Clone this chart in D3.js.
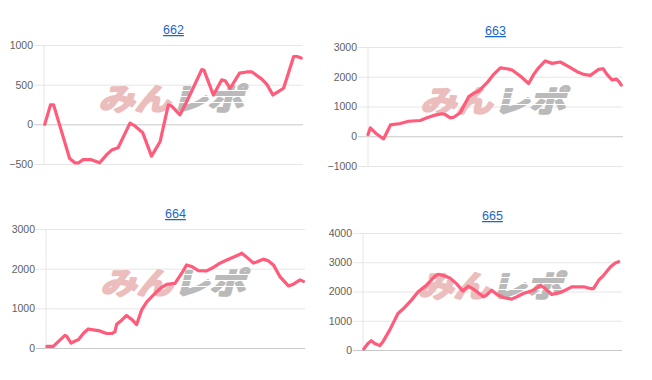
<!DOCTYPE html>
<html>
<head>
<meta charset="UTF-8" />
<title>Charts</title>
<style>
  body { margin: 0; background: #fff; }
  svg { display: block; }
  .tick text { fill: #5f5f5f; font: 10.5px "Liberation Sans", Arial, sans-serif; }
  .tick line { stroke: #e6e6e6; }
  .zero line { stroke: #c8c8c8; }
  .domain { display: none; }
  .title { fill: #1a66cc; font: 12.5px "Liberation Sans", Arial, sans-serif; text-decoration: underline; }
  .line { fill: none; stroke: #ff5b7b; stroke-width: 3.2px; stroke-linejoin: round; stroke-linecap: round; }
  .wm { font: bold 30px "Noto Sans CJK JP", sans-serif; stroke-width: 2.2px; stroke-linejoin: round; }
</style>
<script src="https://cdn.jsdelivr.net/npm/d3@7"></script>
</head>
<body>
<script>
// ---- data (x = position along the run, 0..100) ----
var names = ["662", "663", "664", "665"];

var x662 = [0.3, 2.5, 3.7, 9.9, 11.9, 13.4, 15.1, 18.3, 21.5, 24.4, 26.1, 28.6, 33.2, 35.1, 38.1, 41.5, 44.8, 48, 49.3, 52.5, 55.1, 60.9, 61.8, 65.4, 68.6, 69.9, 71.9, 75.5, 78.3, 80.3, 84.1, 86.1, 88.4, 90.6, 92.5, 96.4, 97.7, 99.3];
var v662 = [0, 245, 245, -430, -485, -485, -445, -445, -485, -375, -325, -295, 15, -20, -105, -400, -220, 245, 230, 120, 285, 690, 680, 370, 560, 550, 455, 645, 660, 660, 570, 500, 370, 415, 455, 855, 855, 835];

var x663 = [0, 0.9, 2.9, 6.1, 8.8, 12.7, 15.9, 20.5, 23.1, 25.8, 29.0, 30.3, 32.3, 33.6, 36.2, 37.5, 39.5, 41.4, 43.4, 46.7, 49.3, 51.9, 54.5, 56.5, 59.7, 63.0, 65.0, 66.9, 69.5, 72.2, 75.4, 78.7, 82.0, 84.6, 87.2, 90.5, 92.2, 93.7, 95.7, 97.4, 98.3, 99.3];
var v663 = [55, 280, 110, -90, 380, 430, 505, 530, 620, 700, 755, 730, 620, 640, 790, 1010, 1330, 1440, 1520, 1800, 2080, 2300, 2270, 2225, 2025, 1775, 2080, 2300, 2530, 2450, 2495, 2340, 2170, 2080, 2045, 2250, 2270, 2080, 1890, 1920, 1850, 1720];

var x664 = [0.3, 2.8, 7.3, 8.0, 9.7, 11.2, 12.5, 14.4, 16.3, 18.9, 20.8, 23.4, 25.4, 26.6, 27.3, 29.2, 31.1, 33.1, 35.0, 36.9, 38.9, 42.1, 44.7, 46.6, 49.8, 52.4, 54.3, 56.2, 58.8, 62.0, 64.0, 67.2, 69.8, 72.3, 74.9, 75.6, 77.5, 80.1, 81.3, 83.9, 85.8, 87.8, 90.3, 93.6, 95.5, 98.1, 99.4];
var v664 = [40, 40, 320, 295, 125, 175, 210, 365, 480, 450, 430, 365, 365, 405, 600, 700, 820, 720, 590, 955, 1165, 1380, 1530, 1605, 1630, 1885, 2095, 2055, 1950, 1945, 2010, 2140, 2220, 2290, 2365, 2390, 2290, 2140, 2170, 2240, 2200, 2095, 1800, 1565, 1610, 1715, 1680];

var x665 = [0.3, 1.9, 3.2, 4.5, 6.5, 7.7, 10.3, 13.5, 16.1, 18.7, 21.3, 24.5, 27.7, 29.0, 31.0, 33.5, 36.1, 38.5, 40.6, 43.2, 46.5, 47.7, 49.7, 51.6, 54.2, 57.4, 59.4, 61.9, 65.8, 68.6, 70.3, 72.9, 76.1, 78.7, 80.6, 85.2, 87.7, 89.0, 91.0, 92.9, 95.5, 97.4, 98.7];
var v665 = [35, 225, 320, 225, 150, 285, 680, 1250, 1455, 1705, 1990, 2215, 2520, 2590, 2545, 2465, 2270, 2020, 2180, 2045, 1820, 1875, 2045, 1910, 1795, 1740, 1820, 1930, 2045, 2215, 2100, 1900, 1965, 2070, 2160, 2160, 2100, 2100, 2385, 2555, 2840, 2975, 3020];

var ticks662 = [-500, 0, 500, 1000];
var ticks663 = [-1000, 0, 1000, 2000, 3000];
var ticks664 = [0, 1000, 2000, 3000];
var ticks665 = [0, 1000, 2000, 3000, 4000];

var xs = [x662, x663, x664, x665];
var vs = [v662, v663, v664, v665];
var tickSets = [ticks662, ticks663, ticks664, ticks665];

// plot boxes
var boxes = [
  {left: 44, right: 303, top: 45, bottom: 164, ty: 34},
  {left: 368, right: 623, top: 47, bottom: 166, ty: 35},
  {left: 46, right: 305, top: 229, bottom: 348, ty: 218},
  {left: 363, right: 622, top: 233, bottom: 350, ty: 220}
];

var svg = d3.select("body").append("svg")
    .attr("width", 652)
    .attr("height", 380);

boxes.forEach(function(b, i) {
  var ticks = tickSets[i];
  var x = d3.scaleLinear().domain([0, 100]).range([b.left, b.right]);
  var y = d3.scaleLinear().domain(d3.extent(ticks)).range([b.bottom, b.top]);
  var w = b.right - b.left;

  // title
  svg.append("text")
      .attr("class", "title")
      .attr("x", (b.left + b.right) / 2)
      .attr("y", b.ty)
      .attr("text-anchor", "middle")
      .text(names[i]);

  // y axis + grid
  var ax = svg.append("g")
      .attr("transform", "translate(" + b.left + ",0)")
      .call(d3.axisLeft(y).tickValues(ticks).tickFormat(d3.format("d")).tickSize(-w).tickPadding(11));
  ax.selectAll(".tick line").attr("x1", -10);
  ax.selectAll(".tick").classed("zero", function(d) { return d === 0; });

  svg.append("line")
      .attr("x1", b.left).attr("x2", b.left)
      .attr("y1", b.top).attr("y2", b.bottom)
      .style("stroke", "#e6e6e6");

  // watermark
  var cx = (b.left + b.right) / 2, cy = (b.top + b.bottom) / 2 - 7;
  var wm = svg.append("g")
      .attr("transform", "translate(" + cx + "," + cy + ") skewX(-14)");
  wm.append("text")
      .attr("class", "wm")
      .attr("x", -72).attr("y", 12)
      .attr("textLength", 72).attr("lengthAdjust", "spacingAndGlyphs")
      .style("fill", "#ecbdbd").style("stroke", "#ecbdbd")
      .text("みん");
  wm.append("text")
      .attr("class", "wm")
      .attr("x", 1).attr("y", 12)
      .attr("textLength", 72).attr("lengthAdjust", "spacingAndGlyphs")
      .style("fill", "#bababa").style("stroke", "#bababa")
      .text("レポ");
  [-7, -1, 5].forEach(function(dy) {
    wm.append("line")
        .attr("x1", 1).attr("x2", 75)
        .attr("y1", dy).attr("y2", dy)
        .style("stroke", "#fff").style("stroke-width", 1.2);
  });

  // line
  var pts = xs[i].map(function(d, j) { return [d, vs[i][j]]; });
  svg.append("path")
      .datum(pts)
      .attr("class", "line")
      .attr("d", d3.line()
          .x(function(d) { return x(d[0]); })
          .y(function(d) { return y(d[1]); }));
});
</script>
</body>
</html>
